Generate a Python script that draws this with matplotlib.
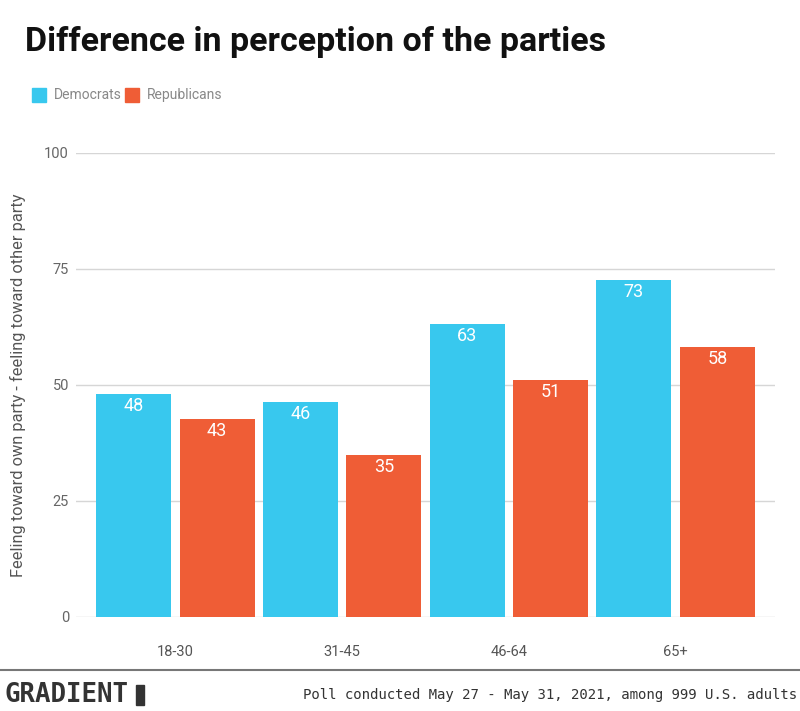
import numpy as np
import matplotlib.pyplot as plt
from matplotlib.patches import Rectangle

# data
age_groups = ["18-30", "31-45", "46-64", "65+"]
democrats = [48.1, 46.3, 63.1, 72.6]
republicans = [42.7, 34.9, 51.1, 58.2]
y_ticks = [0, 25, 50, 75, 100]

dem_color = "#38C8EE"
rep_color = "#EF5D36"

plt.rcParams['font.family'] = ['Roboto', 'DejaVu Sans']

fig = plt.figure(figsize=(8, 7.11), dpi=100)
W, H = 800, 711
# axes: left 76px, right 775px, top y=100 at 153px, bottom y=0 at 617px
ax = fig.add_axes([76 / W, 1 - 617 / H, (775 - 76) / W, (617 - 153) / H])

x = np.arange(len(age_groups))
bw = 0.45
off = 0.25
b1 = ax.bar(x - off, democrats, bw, color=dem_color, zorder=3, label="Democrats")
b2 = ax.bar(x + off, republicans, bw, color=rep_color, zorder=3, label="Republicans")

for bars in (b1, b2):
    for rect in bars:
        h = rect.get_height()
        ax.annotate(f"{h:.0f}", (rect.get_x() + rect.get_width() / 2, h),
                    xytext=(0, -2), textcoords="offset points",
                    ha="center", va="top", color="white", fontsize=13, zorder=4)

ax.set_xlim(-0.5 - 0.096, 3.5 + 0.096)
ax.set_ylim(0, 100)
ax.set_yticks(y_ticks)
ax.set_xticks(x)
ax.set_xticklabels(age_groups)
ax.grid(axis="y", color="#d6d6d6", lw=1, zorder=0)
ax.tick_params(axis="y", length=0, pad=5, labelsize=10.5, labelcolor="#666666")
ax.tick_params(axis="x", length=0, pad=20, labelsize=10.5, labelcolor="#555555")
for s in ax.spines.values():
    s.set_visible(False)

fig.text(18 / W, 1 - 385 / H, "Feeling toward own party - feeling toward other party",
         fontsize=11.8, color="#555555", rotation=90, va="center", ha="center")

# title
fig.text(25 / W, 1 - 42 / H, "Difference in perception of the parties",
         fontsize=24.5, fontweight="bold", color="#111111", va="center", ha="left")

# legend
leg_items = [("Democrats", dem_color, 32), ("Republicans", rep_color, 125)]
for label, col, xp in leg_items:
    fig.patches.append(Rectangle((xp / W, 1 - 102 / H), 14 / W, 14 / H,
                                 transform=fig.transFigure, color=col))
    fig.text((xp + 22) / W, 1 - 95 / H, label, fontsize=10, color="#888888",
             va="center", ha="left")

# footer
fig.add_artist(plt.Line2D([0, 1], [1 - 670 / H, 1 - 670 / H],
                          transform=fig.transFigure, color="#777777", lw=1.5))
fig.text(5 / W, 1 - 695 / H, "GRADIENT", fontsize=18.5, fontweight="bold",
         family="DejaVu Sans Mono", color="#333333", va="center", ha="left")
fig.patches.append(Rectangle((136 / W, 1 - 705 / H), 8 / W, 20 / H,
                             transform=fig.transFigure, color="#333333"))
fig.text(797 / W, 1 - 695 / H,
         "Poll conducted May 27 - May 31, 2021, among 999 U.S. adults",
         fontsize=10.1, family="DejaVu Sans Mono", color="#333333",
         va="center", ha="right")

fig.savefig("out.png", dpi=100)
